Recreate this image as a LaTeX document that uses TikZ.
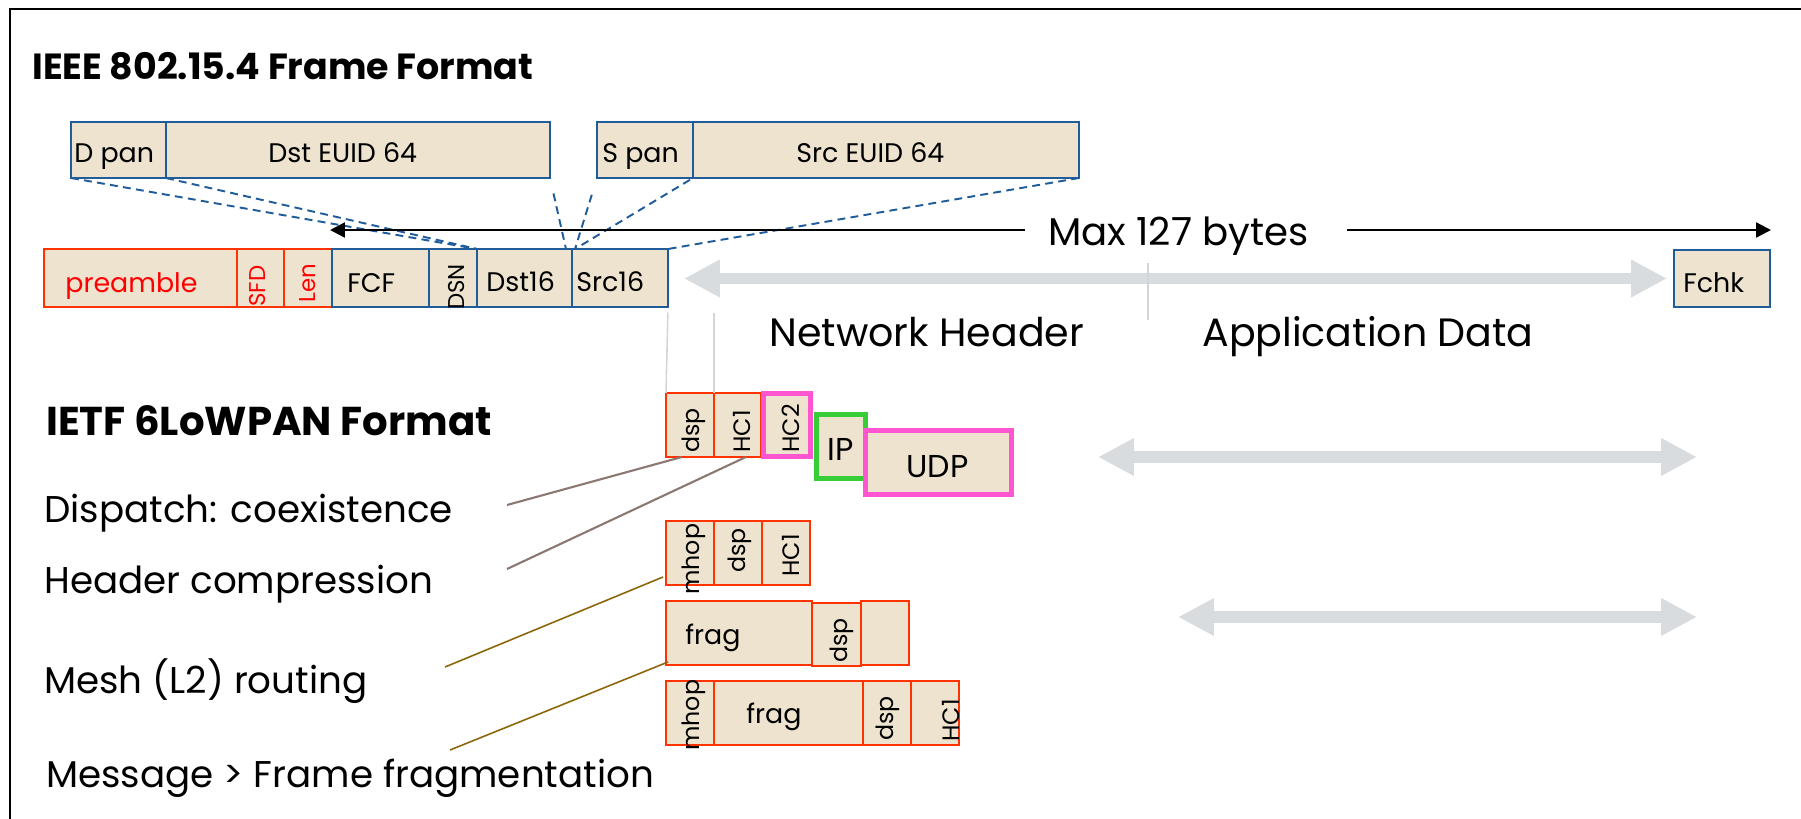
\documentclass[tikz,border=0pt]{standalone}
\usepackage{fontspec}
\setmainfont{Poppins}
\usetikzlibrary{arrows.meta,fit,calc}

\definecolor{cellfill}{RGB}{237,227,207}
\definecolor{boxblue}{RGB}{31,92,153}
\definecolor{boxred}{RGB}{255,51,0}
\definecolor{txtred}{RGB}{255,0,0}
\definecolor{hcmag}{RGB}{255,85,208}
\definecolor{ipgreen}{RGB}{55,205,55}
\definecolor{lightgray}{RGB}{217,220,223}
\definecolor{tickgray}{RGB}{210,214,218}
\definecolor{leadbrown}{RGB}{140,120,115}
\definecolor{leadgold}{RGB}{139,101,8}

\newcommand\setfs[1]{\fontsize{#1}{#1}\selectfont}
% a packet field: style, name, corners (x1,y1) and (x2,y2)
\newcommand\cellbox[6]{\node[#1, fit={(#3,#4) (#5,#6)}] (#2) {};}

\tikzset{
  cellblue/.style={draw=boxblue, line width=1.1pt, fill=cellfill, inner sep=0pt, outer sep=0pt},
  cellred/.style={draw=boxred, line width=1.1pt, fill=cellfill, inner sep=0pt, outer sep=0pt},
  magbox/.style={draw=hcmag, line width=2.8pt, fill=cellfill, inner sep=0pt, outer sep=0pt},
  grnbox/.style={draw=ipgreen, line width=2.8pt, fill=cellfill, inner sep=0pt, outer sep=0pt},
  heading/.style={inner sep=0pt, font=\setfs{20.7}\bfseries},
  heading2/.style={inner sep=0pt, font=\setfs{22.9}\bfseries},
  body/.style={inner sep=0pt, font=\setfs{21.2}},
  bigtxt/.style={inner sep=0pt, font=\setfs{22.5}},
  maxtxt/.style={inner sep=0pt, font=\setfs{22}},
  celltxt/.style={inner sep=0pt, font=\setfs{15.3}},
  ludptxt/.style={inner sep=0pt, font=\setfs{18}},
  rottxt/.style={inner sep=0pt, rotate=90, anchor=west, font=\setfs{13.5}},
  smallrot/.style={inner sep=0pt, rotate=90, anchor=west, font=\setfs{13}},
  dashline/.style={draw=boxblue, line width=1.1pt, dash pattern=on 4.5pt off 3pt},
  thingray/.style={draw=tickgray, line width=0.9pt},
  brownline/.style={draw=leadbrown, line width=1.2pt},
  goldline/.style={draw=leadgold, line width=0.9pt},
  bigarrow/.style={draw=lightgray, line width=6.4pt,
    {Triangle[length=20.4pt,width=20pt]}-{Triangle[length=20.4pt,width=20pt]}},
  blackarrow/.style={draw=black, line width=1.3pt, -{Triangle[length=8.5pt,width=8.5pt]}},
}

\begin{document}
\begin{tikzpicture}[x=0.02cm,y=-0.02cm]
\useasboundingbox (0,0) rectangle (1801,818);

% outer frame, open towards the right and bottom
\draw[line width=1.2pt] (10,840) -- (10,9) -- (1830,9);

% headings and explanations
\node[heading, anchor=base west] (ieee) at (32,79) {IEEE 802.15.4 Frame Format};
\node[heading2, anchor=base west] (ietf) at (46,435) {IETF 6LoWPAN Format};
\node[body, anchor=base west] (disp) at (44,522) {Dispatch: coexistence};
\node[body, anchor=base west] (hdrc) at (44,593) {Header compression};
\node[body, anchor=base west] (mesh) at (44,693) {Mesh (L2) routing};
\node[body, anchor=base west] (fragm) at (46,787) {Message > Frame fragmentation};

% address fields
\cellbox{cellblue}{dpan}{71}{122}{166}{178}
\cellbox{cellblue}{dsteuid}{166}{122}{550}{178}
\cellbox{cellblue}{span}{597}{122}{693}{178}
\cellbox{cellblue}{srceuid}{693}{122}{1079}{178}
\node[celltxt, anchor=base west] (t-dpan) at (74,162) {D pan};
\node[celltxt, anchor=base west] (t-dsteuid) at (268,162) {Dst EUID 64};
\node[celltxt, anchor=base west] (t-span) at (602,162) {S pan};
\node[celltxt, anchor=base west] (t-srceuid) at (796,162) {Src EUID 64};

% 802.15.4 frame
\cellbox{cellred}{pre}{44}{249}{237}{307}
\cellbox{cellred}{sfd}{237}{249}{284}{307}
\cellbox{cellred}{len}{284}{249}{332}{307}
\cellbox{cellblue}{fcf}{332}{249}{429}{307}
\cellbox{cellblue}{dsn}{429}{249}{477}{307}
\cellbox{cellblue}{dst16}{477}{249}{572}{307}
\cellbox{cellblue}{src16}{572}{249}{668}{307}
\cellbox{cellblue}{fchk}{1674}{250}{1770}{307}
\node[celltxt, anchor=base west, text=txtred] (t-pre) at (65,292) {preamble};
\node[smallrot, text=txtred] (t-sfd) at (258,307) {SFD};
\node[smallrot, text=txtred] (t-len) at (308,303) {Len};
\node[celltxt, anchor=base west] (t-fcf) at (347,292) {FCF};
\node[smallrot] (t-dsn) at (457,310) {DSN};
\node[celltxt, anchor=base west] (t-dst16) at (486,291) {Dst16};
\node[celltxt, anchor=base west] (t-src16) at (576,291) {Src16};
\node[celltxt, anchor=base west] (t-fchk) at (1683,292) {Fchk};

% address fields mapped onto the frame
\draw[dashline] (dpan.south west) -- (dst16.north west);
\draw[dashline] (dpan.south east) -- (dst16.north west);
\draw[dashline, shorten <=9pt] (dsteuid.south east) -- ($(dst16.north east)+(-6,0)$);
\draw[dashline, shorten <=10pt] (span.south west) -- ($(src16.north west)+(3,0)$);
\draw[dashline, shorten <=2pt] (span.south east) -- ($(src16.north west)+(3,0)$);
\draw[dashline] (srceuid.south east) -- (src16.north east);

% maximum frame length
\coordinate (maxL) at (330,230);
\coordinate (maxLs) at (1025,230);
\coordinate (maxRs) at (1347,230);
\coordinate (maxR) at (1771,230);
\node[maxtxt, anchor=base west] (maxlbl) at (1048,245) {Max 127 bytes};
\draw[blackarrow] (maxLs) -- (maxL);
\draw[blackarrow] (maxRs) -- (maxR);

% payload span
\coordinate (payL) at (684,278.5);
\coordinate (payR) at (1667,278.5);
\draw[bigarrow] (payL) -- (payR);
\draw[thingray] (1148,263) -- (1148,320);
\node[bigtxt, anchor=base west] (nethdr) at (769,346) {Network Header};
\node[bigtxt, anchor=base west] (appdata) at (1202,346) {Application Data};

% 6LoWPAN header stacks
\cellbox{cellred}{a-dsp}{666}{393}{714}{457}
\cellbox{cellred}{a-hc1}{714}{393}{761}{457}
\node[magbox, fit={(763.5,393.5) (810.5,456.5)}] (a-hc2) {};
\node[grnbox, fit={(816.5,414.5) (865.5,478.5)}] (a-ip) {};
\node[magbox, fit={(865.5,430.5) (1011.5,494.5)}] (a-udp) {};
\node[rottxt] (ta-dsp) at (694,453) {dsp};
\node[rottxt] (ta-hc1) at (742,453) {HC1};
\node[rottxt] (ta-hc2) at (791,453) {HC2};
\node[ludptxt, anchor=base west] (ta-ip) at (827,460) {IP};
\node[ludptxt, anchor=base west] (ta-udp) at (906,477) {UDP};

\cellbox{cellred}{b-mhop}{666}{521}{714}{585}
\cellbox{cellred}{b-dsp}{714}{521}{762}{585}
\cellbox{cellred}{b-hc1}{762}{521}{810}{585}
\node[rottxt] (tb-mhop) at (694,595) {mhop};
\node[rottxt] (tb-dsp) at (740,573) {dsp};
\node[rottxt] (tb-hc1) at (791,577) {HC1};

\cellbox{cellred}{c-frag}{666}{601}{812}{665}
\cellbox{cellred}{c-dsp}{812}{603}{861}{666}
\cellbox{cellred}{c-end}{861}{601}{909}{665}
\node[celltxt, anchor=base west] (tc-frag) at (685,644) {frag};
\node[rottxt] (tc-dsp) at (842,663) {dsp};

\cellbox{cellred}{d-mhop}{666}{681}{714}{745}
\cellbox{cellred}{d-frag}{714}{681}{863}{745}
\cellbox{cellred}{d-dsp}{863}{681}{911}{745}
\cellbox{cellred}{d-hc1}{911}{681}{959}{745}
\node[rottxt] (td-mhop) at (694,751) {mhop};
\node[celltxt, anchor=base west] (td-frag) at (746,723) {frag};
\node[rottxt] (td-dsp) at (888,741) {dsp};
\node[rottxt] (td-hc1) at (951,742) {HC1};

% frame fields carried over to the 6LoWPAN header
\draw[thingray, shorten >=3pt] (a-dsp.north west) -- (src16.south east);
\draw[thingray] (a-dsp.north east) -- ++(0,-80);

% leaders from the explanations to the header fields
\coordinate (disp-end) at (507,505);
\coordinate (hdrc-end) at (507,569);
\coordinate (mesh-end) at (445,667);
\coordinate (fragm-end) at (450,750);
\draw[brownline] (disp-end) -- ($(a-dsp.south west)!0.33!(a-dsp.south east)$);
\draw[brownline] (hdrc-end) -- ($(a-hc1.south west)!0.68!(a-hc1.south east)$);
\draw[goldline] (mesh-end) -- ($(b-mhop.south west)+(-3,-8)$);
\draw[goldline] (fragm-end) -- ($(c-frag.south west)+(2,-3)$);

% payload spans of the compressed frames
\coordinate (p1L) at (1098,457);
\coordinate (p1R) at (1697,457);
\coordinate (p2L) at (1178,617);
\coordinate (p2R) at (1697,617);
\draw[bigarrow] (p1L) -- (p1R);
\draw[bigarrow] (p2L) -- (p2R);
\end{tikzpicture}
\end{document}
